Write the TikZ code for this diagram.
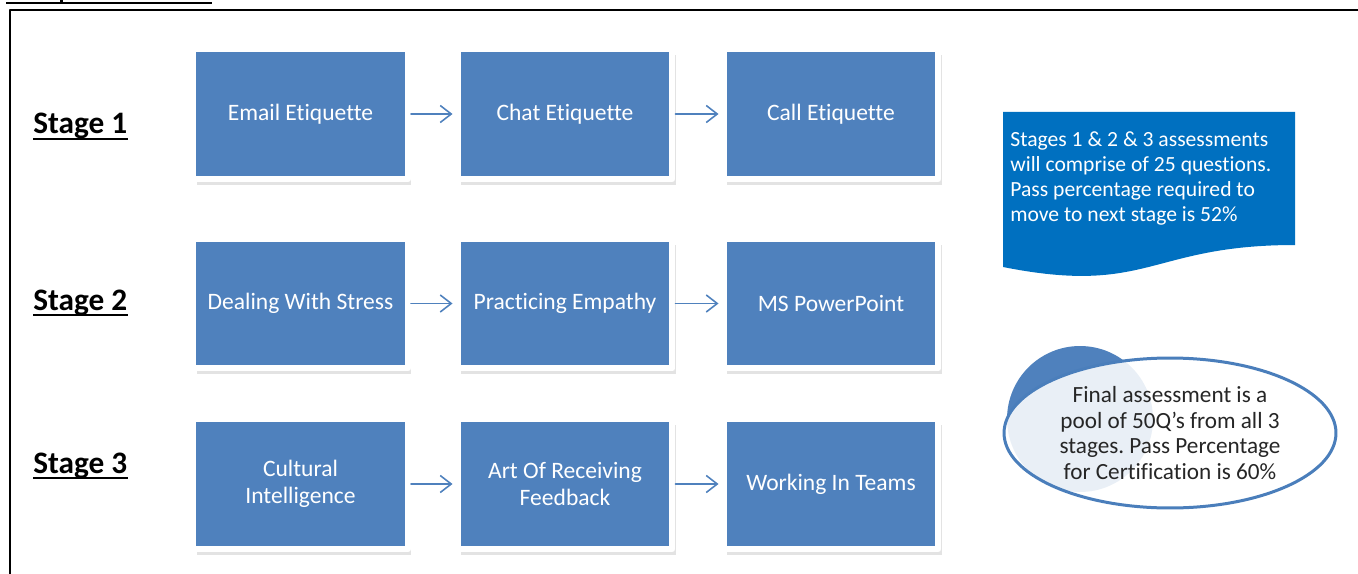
\documentclass[tikz,border=0pt]{standalone}
\usepackage{fontspec}
\setmainfont{Carlito}[Ligatures=NoCommon]
\usepackage{tikz}
\usetikzlibrary{arrows.meta,shadows,shapes.geometric}
\definecolor{boxblue}{rgb}{0.31,0.506,0.741}
\definecolor{docblue}{rgb}{0.,0.439,0.753}
\definecolor{ringblue}{rgb}{0.29,0.494,0.733}
\definecolor{inkgrey}{rgb}{0.15,0.15,0.15}
\frenchspacing
\tikzset{
  topic/.style={rectangle,fill=boxblue,draw=white,line width=0.12cm,
    minimum width=4.3cm,minimum height=2.6cm,inner sep=0pt,
    text=white,align=center,font=\fontsize{13.4}{15}\selectfont,
    drop shadow={shadow xshift=0.07cm,shadow yshift=-0.12cm,opacity=0.22}},
  stagelabel/.style={inner sep=0pt,anchor=base west,
    font=\bfseries\fontsize{17.8}{20}\selectfont},
  flow/.style={draw=boxblue,line width=0.9pt,
    -{Straight Barb[length=0.22cm,width=0.34cm,line width=0.9pt]},shorten >=0.04cm},
  notetext/.style={inner sep=0pt,text=white,align=left,
    font=\fontsize{12.3}{14.3}\selectfont}
}

\begin{document}
\begin{tikzpicture}[line cap=round,line join=round,x=0.02cm,y=-0.02cm]
  \useasboundingbox (0,0) rectangle (1358,574);
  % frame and cut heading rule
  \draw [line width=0.04cm,line cap=butt] (10,574) -- (10,10) -- (1358,10);
  \draw [line width=0.052cm,line cap=butt] (6,3) -- (212,3);
  \fill (59.5,0) rectangle (63,3);
  % stage labels
  \node [stagelabel] (s1) at (33,134) {Stage 1};
  \node [stagelabel] (s2) at (33,310) {Stage 2};
  \node [stagelabel] (s3) at (33,473) {Stage 3};
  \foreach \s in {s1,s2,s3}
    \draw [line width=1.1pt,line cap=butt] ([yshift=-2.9pt]\s.base west) -- ([yshift=-2.9pt]\s.base east);
  % topic boxes
  \node [topic] (email) at (300.5,114) {Email Etiquette};
  \node [topic] (chat) at (565,114) {Chat Etiquette};
  \node [topic] (call) at (831,114) {Call Etiquette};
  \node [topic] (stress) at (300.5,303.5) {Dealing With Stress};
  \node [topic] (empathy) at (565,303.5) {Practicing Empathy};
  \node [topic] (ppt) at (831,303.5) {MS PowerPoint};
  \node [topic] (culture) at (300.5,484) {Cultural\\Intelligence};
  \node [topic] (feedback) at (565,484) {Art Of Receiving\\Feedback};
  \node [topic] (teams) at (831,484) {Working In Teams};
  \draw [flow] (email) -- (chat);
  \draw [flow] (chat) -- (call);
  \draw [flow] (stress) -- (empathy);
  \draw [flow] (empathy) -- (ppt);
  \draw [flow] (culture) -- (feedback);
  \draw [flow] (feedback) -- (teams);
  % note, document shape
  \fill [docblue] (1003,112) -- (1295,112) -- (1295,245)
    .. controls (1149,245) and (1149,296) .. (1003,267) -- cycle;
  \node [notetext,anchor=north west] (rules) at (1010,131.5)
    {Stages 1 \& 2 \& 3 assessments\\will comprise of 25 questions.\\Pass percentage required to\\move to next stage is 52\%};
  % final assessment
  \node [circle,fill=boxblue,minimum size=2.92cm,inner sep=0pt] (disc) at (1080,419) {};
  \node [ellipse,fill=white,fill opacity=0.88,text opacity=1,draw=ringblue,
    line width=0.06cm,minimum width=6.64cm,minimum height=3cm,inner sep=0pt,
    text=inkgrey,align=center,font=\fontsize{13.2}{14.5}\selectfont] (final) at (1170,433)
    {Final assessment is a\\pool of 50Q’s from all 3\\stages. Pass Percentage\\for Certification is 60\%};
\end{tikzpicture}
\end{document}
